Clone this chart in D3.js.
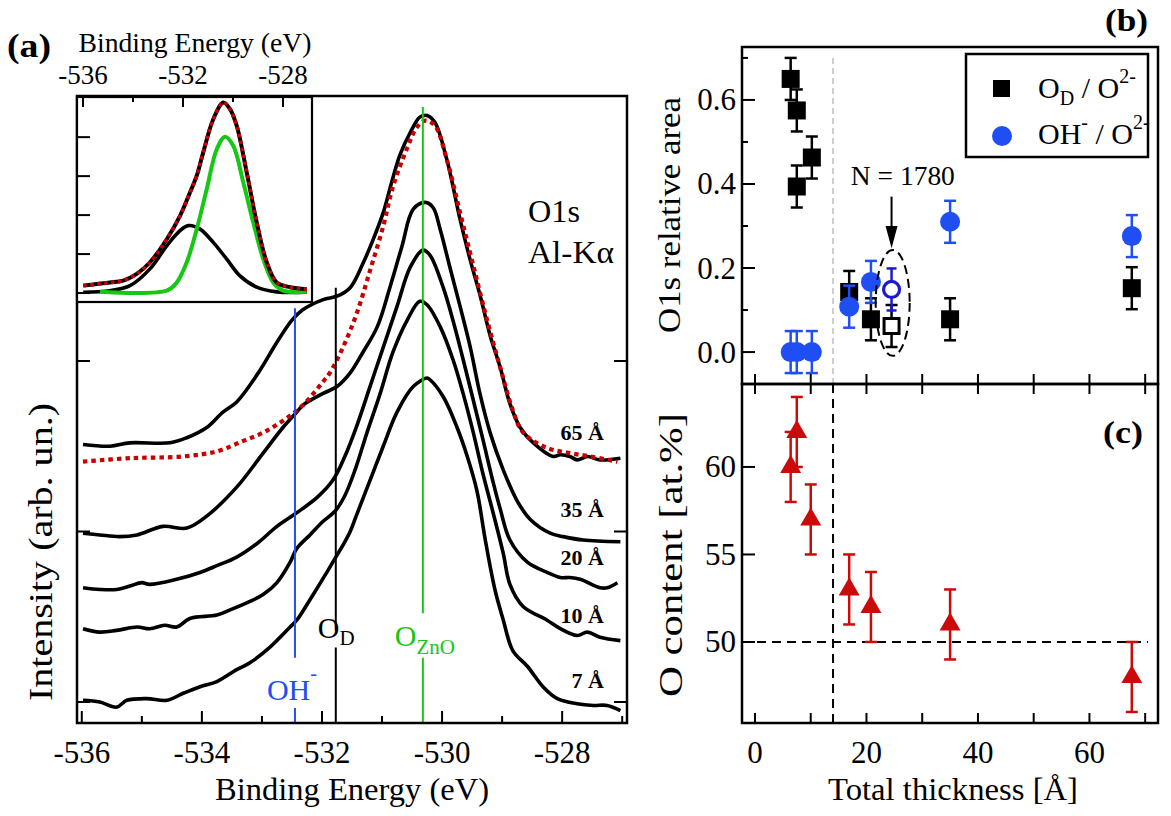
<!DOCTYPE html>
<html>
<head>
<meta charset="utf-8">
<script src="https://cdn.jsdelivr.net/npm/d3@7"></script>
<style>
  body { margin: 0; background: #fff; }
  svg { display: block; }
  text { font-family: 'Liberation Serif', 'Times New Roman', serif; fill: #000; }
</style>
</head>
<body>
<svg id="fig" width="1171" height="816"></svg>
<script>
// ---------- O1s spectra, binding energy (eV) vs intensity (arb. units, offset stacked) ----------
const spectrum7 = [[-535.98,0.01],[-535.70,0.00],[-535.42,-0.03],[-535.25,0.01],[-534.92,0.02],[-534.58,0.01],[-534.32,0.05],[-534.03,0.09],[-533.75,0.12],[-533.42,0.19],[-533.20,0.23],[-532.87,0.32],[-532.53,0.44],[-532.42,0.48],[-532.20,0.60],[-531.92,0.76],[-531.77,0.85],[-531.65,0.92],[-531.53,1.00],[-531.42,1.10],[-531.20,1.30],[-530.98,1.50],[-530.75,1.70],[-530.48,1.85],[-530.25,1.90],[-530.20,1.89],[-529.98,1.79],[-529.75,1.61],[-529.58,1.44],[-529.42,1.24],[-529.28,0.95],[-529.12,0.66],[-528.98,0.48],[-528.82,0.30],[-528.58,0.21],[-528.32,0.09],[-528.08,0.02],[-527.75,-0.01],[-527.48,-0.02],[-527.25,-0.02],[-527.03,-0.05]];
const spectrum10 = [[-535.98,0.43],[-535.70,0.41],[-535.42,0.42],[-535.08,0.44],[-534.87,0.43],[-534.62,0.45],[-534.42,0.44],[-534.20,0.49],[-533.75,0.51],[-533.53,0.54],[-533.20,0.59],[-532.98,0.63],[-532.75,0.70],[-532.53,0.82],[-532.42,0.90],[-532.20,0.98],[-531.98,1.06],[-531.78,1.12],[-531.62,1.21],[-531.45,1.36],[-531.25,1.58],[-531.03,1.81],[-530.82,2.05],[-530.58,2.24],[-530.37,2.35],[-530.25,2.33],[-530.03,2.20],[-529.82,2.01],[-529.65,1.81],[-529.48,1.58],[-529.32,1.34],[-529.15,1.11],[-528.98,0.87],[-528.87,0.69],[-528.65,0.56],[-528.25,0.48],[-528.03,0.43],[-527.75,0.39],[-527.58,0.41],[-527.37,0.38],[-527.03,0.36]];
const spectrum20 = [[-535.98,0.67],[-535.70,0.66],[-535.42,0.66],[-535.20,0.68],[-535.00,0.70],[-534.87,0.69],[-534.42,0.72],[-534.03,0.76],[-533.75,0.80],[-533.42,0.85],[-533.08,0.93],[-532.75,1.03],[-532.42,1.11],[-532.08,1.20],[-531.82,1.30],[-531.62,1.44],[-531.42,1.62],[-531.20,1.85],[-530.98,2.08],[-530.75,2.32],[-530.53,2.55],[-530.32,2.65],[-530.20,2.62],[-529.98,2.43],[-529.82,2.24],[-529.65,2.01],[-529.48,1.77],[-529.32,1.54],[-529.15,1.29],[-529.03,1.13],[-528.87,0.95],[-528.58,0.82],[-528.25,0.76],[-528.03,0.73],[-527.87,0.73],[-527.70,0.72],[-527.37,0.67],[-527.25,0.67],[-527.08,0.70]];
const spectrum35 = [[-535.98,0.99],[-535.70,0.98],[-535.37,0.97],[-535.08,0.98],[-534.65,1.03],[-534.25,1.02],[-533.92,1.09],[-533.42,1.26],[-532.98,1.46],[-532.65,1.61],[-532.42,1.70],[-532.32,1.74],[-531.98,1.81],[-531.75,1.85],[-531.53,1.93],[-531.32,2.05],[-531.08,2.20],[-530.87,2.43],[-530.67,2.67],[-530.48,2.89],[-530.28,2.93],[-530.15,2.90],[-530.03,2.77],[-529.87,2.55],[-529.70,2.32],[-529.53,2.08],[-529.37,1.81],[-529.20,1.58],[-528.98,1.36],[-528.75,1.18],[-528.53,1.07],[-528.20,0.99],[-527.98,0.97],[-527.65,0.95],[-527.03,0.94]];
const spectrum65 = [[-535.98,1.51],[-535.53,1.50],[-535.20,1.52],[-534.53,1.52],[-534.25,1.55],[-533.92,1.61],[-533.65,1.70],[-533.42,1.76],[-533.08,1.92],[-532.75,2.11],[-532.50,2.24],[-532.32,2.30],[-531.98,2.36],[-531.75,2.38],[-531.53,2.43],[-531.32,2.57],[-531.15,2.71],[-530.98,2.87],[-530.83,3.06],[-530.70,3.21],[-530.53,3.34],[-530.37,3.43],[-530.25,3.44],[-530.12,3.40],[-529.92,3.18],[-529.70,2.83],[-529.53,2.59],[-529.37,2.39],[-529.20,2.15],[-529.03,1.96],[-528.87,1.75],[-528.70,1.61],[-528.48,1.52],[-528.15,1.44],[-528.03,1.45],[-527.87,1.44],[-527.75,1.42],[-527.58,1.44],[-527.37,1.42],[-527.03,1.43]];
// O_ZnO-only reference envelope (red dotted)
const referenceZnO = [[-535.98,1.41],[-535.20,1.43],[-534.32,1.44],[-533.75,1.47],[-533.32,1.53],[-532.98,1.58],[-532.65,1.65],[-532.32,1.74],[-531.98,1.88],[-531.87,1.93],[-531.65,2.08],[-531.42,2.28],[-531.20,2.53],[-530.98,2.79],[-530.82,3.02],[-530.58,3.25],[-530.42,3.37],[-530.28,3.41],[-530.12,3.38],[-529.92,3.18],[-529.70,2.87],[-529.48,2.56],[-529.25,2.24],[-529.03,1.96],[-528.82,1.71],[-528.65,1.58],[-528.25,1.49],[-527.87,1.46],[-527.53,1.44],[-527.08,1.41]];
const spectrumLabels = ["7 Å", "10 Å", "20 Å", "35 Å", "65 Å"];

// Component energies (eV)
const peakOH = -532.45, peakOD = -531.77, peakZnO = -530.32;

// ---------- inset: fitted spectrum ----------
const insetMeasured = [[-535.99,0.19],[-535.45,0.23],[-534.92,0.27],[-534.39,0.32],[-533.85,0.49],[-533.32,0.79],[-532.65,1.38],[-532.12,1.98],[-531.72,2.58],[-531.45,3.01],[-531.19,3.61],[-530.79,4.46],[-530.39,4.89],[-530.12,4.72],[-529.85,4.29],[-529.45,3.09],[-529.05,1.81],[-528.65,0.79],[-528.25,0.27],[-527.72,0.15],[-527.05,0.10]];
const insetComponentOD = [[-535.99,0.02],[-534.92,0.06],[-534.12,0.19],[-533.32,0.62],[-532.65,1.21],[-532.12,1.60],[-531.79,1.73],[-531.32,1.64],[-530.79,1.30],[-530.25,0.87],[-529.72,0.44],[-529.05,0.15],[-528.25,0.03],[-527.05,0.02]];
const insetComponentZnO = [[-535.32,0.03],[-532.65,0.06],[-532.25,0.27],[-531.85,0.79],[-531.45,1.64],[-531.05,2.67],[-530.65,3.69],[-530.32,4.01],[-529.99,3.78],[-529.59,2.84],[-529.19,1.81],[-528.79,0.87],[-528.39,0.27],[-527.99,0.06],[-527.05,0.03]];

// ---------- (b) O1s relative areas vs total thickness (Å) ----------
const thicknessOD = [6.4, 7.5, 10.2, 7.5, 16.9, 20.8, 35, 67.6];
const ratioOD     = [0.65, 0.575, 0.463, 0.394, 0.143, 0.078, 0.078, 0.152];
const errOD       = [0.05, 0.05, 0.05, 0.05, 0.05, 0.05, 0.05, 0.05];
const thicknessOH = [6.4, 7.5, 10.2, 16.9, 20.8, 35, 67.6];
const ratioOH     = [0.0, 0.0, 0.0, 0.108, 0.167, 0.31, 0.276];
const errOH       = [0.05, 0.05, 0.05, 0.05, 0.05, 0.05, 0.05];
// N = 1780 sample (open symbols)
const thicknessN = [24.5];
const ratioODN = [0.062];
const ratioOHN = [0.149];
const errN = [0.05];

// ---------- (c) O content vs total thickness ----------
const thicknessO = [6.4, 7.5, 10, 16.9, 20.8, 35, 67.6];
const oContent   = [60, 62, 57, 53, 52, 51, 48];
const oErr       = [2, 2, 2, 2, 2, 2, 2];

// tick values
const ticksA = [-536, -535, -534, -533, -532, -531, -530, -529, -528, -527];
const ticksAy = [0, 1, 2];
const insetTicks = [-536, -534, -532, -530, -528];
const insetTicksY = [0, 1, 2, 3, 4];
const ticksThk = [0, 10, 20, 30, 40, 50, 60, 70];
const ticksB = [0, 0.1, 0.2, 0.3, 0.4, 0.5, 0.6, 0.7];
const ticksC = [50, 55, 60];

const svg = d3.select('#fig');
svg.append('rect').attr('width', 1171).attr('height', 816).attr('fill', '#fff');
const defs = svg.append('defs');

const BLUE = '#1f4ef5', GREEN = '#14c814', RED = '#c80000', TRI = '#cc0a0a';
const fmtE = d => String(d);

// text helper with an explicit rendered length
function label(g, x, y, str, size, len, opts = {}) {
  const t = g.append('text').attr('x', x).attr('y', y).attr('font-size', size).text(str);
  if (len) t.attr('textLength', len).attr('lengthAdjust', 'spacingAndGlyphs');
  if (opts.anchor) t.attr('text-anchor', opts.anchor);
  if (opts.bold) t.attr('font-weight', 'bold');
  if (opts.transform) t.attr('transform', opts.transform);
  return t;
}

// ======================= Panel (a) =======================
const xA = d3.scaleLinear().domain([-536.08, -526.92]).range([77, 627]);
const yA = d3.scaleLinear().domain([-0.123, 3.554]).range([723, 96]);
defs.append('clipPath').attr('id', 'clipA').append('rect')
  .attr('x', 77).attr('y', 96).attr('width', 550).attr('height', 627);

const gA = svg.append('g');
const lineA = d3.line().x(d => xA(d[0])).y(d => yA(d[1])).curve(d3.curveCatmullRom.alpha(0.5));
const plotA = gA.append('g').attr('clip-path', 'url(#clipA)');

[spectrum7, spectrum10, spectrum20, spectrum35, spectrum65].forEach(s => {
  plotA.append('path').datum(s).attr('d', lineA)
    .attr('fill', 'none').attr('stroke', '#000').attr('stroke-width', 3.6)
    .attr('stroke-linejoin', 'round');
});
plotA.append('path').datum(referenceZnO).attr('d', lineA)
  .attr('fill', 'none').attr('stroke', RED).attr('stroke-width', 4.2)
  .attr('stroke-dasharray', '4.5,4');

// component markers, split around their labels
function vseg(e, i0, i1, color) {
  plotA.append('line').attr('x1', xA(e)).attr('x2', xA(e))
    .attr('y1', yA(i0)).attr('y2', yA(i1))
    .attr('stroke', color).attr('stroke-width', 2);
}
vseg(peakOH, 2.31, 0.26, BLUE);  vseg(peakOH, -0.035, -0.2, BLUE);
vseg(peakOD, 2.43, 0.42, '#000'); vseg(peakOD, 0.32, -0.2, '#000');
vseg(peakZnO, 3.49, 0.52, GREEN); vseg(peakZnO, 0.26, -0.2, GREEN);

// component labels
const lblOH = gA.append('text').attr('x', xA(peakOH) - 28).attr('y', 700)
  .attr('font-size', 30).style('fill', BLUE);
lblOH.append('tspan').text('OH');
lblOH.append('tspan').attr('dy', -20).attr('font-size', 20).text('-');
const lblOD = gA.append('text').attr('x', xA(peakOD) - 18).attr('y', 638).attr('font-size', 30);
lblOD.append('tspan').text('O');
lblOD.append('tspan').attr('dy', 7).attr('font-size', 21).text('D');
const lblZ = gA.append('text').attr('x', xA(peakZnO) - 28).attr('y', 646)
  .attr('font-size', 30).style('fill', GREEN);
lblZ.append('tspan').text('O');
lblZ.append('tspan').attr('dy', 8).attr('font-size', 21).text('ZnO');

// thickness labels
const labelBase = [688, 623, 565, 517, 440];
spectrumLabels.forEach((t, i) => {
  label(gA, 604, labelBase[i], t, 22, null, { anchor: 'end', bold: true });
});
label(gA, 528, 222, 'O1s', 31, 52);
label(gA, 528, 263, 'Al-Kα', 31, 86);

// frame and ticks
gA.append('rect').attr('x', 77).attr('y', 96).attr('width', 550).attr('height', 627)
  .attr('fill', 'none').attr('stroke', '#000').attr('stroke-width', 2.5);
ticksA.forEach(t => {
  const major = t % 2 === 0;
  gA.append('line').attr('x1', xA(t)).attr('x2', xA(t))
    .attr('y1', 723).attr('y2', 723 - (major ? 12 : 7))
    .attr('stroke', '#000').attr('stroke-width', 2);
  if (major) label(gA, xA(t), 763, fmtE(t), 31, null, { anchor: 'middle' });
});
ticksAy.forEach(t => {
  gA.append('line').attr('x1', 77).attr('x2', 90).attr('y1', yA(t)).attr('y2', yA(t))
    .attr('stroke', '#000').attr('stroke-width', 2);
  gA.append('line').attr('x1', 627).attr('x2', 614).attr('y1', yA(t)).attr('y2', yA(t))
    .attr('stroke', '#000').attr('stroke-width', 2);
});
label(gA, 352, 800, 'Binding Energy (eV)', 31, 274, { anchor: 'middle' });
label(gA, 0, 0, 'Intensity (arb. un.)', 34, 298, { anchor: 'middle', transform: 'translate(52,552) rotate(-90)' });
label(gA, 7, 57, '(a)', 33, 44, { bold: true });

// ---------------- inset ----------------
const xI = d3.scaleLinear().domain([-536.24, -526.84]).range([77, 312]);
const yI = d3.scaleLinear().domain([-0.23, 5.03]).range([302, 97]);
defs.append('clipPath').attr('id', 'clipI').append('rect')
  .attr('x', 77).attr('y', 97).attr('width', 235).attr('height', 205);
const gI = svg.append('g');
gI.append('rect').attr('x', 77).attr('y', 97).attr('width', 235).attr('height', 205).attr('fill', '#fff');
const lineI = d3.line().x(d => xI(d[0])).y(d => yI(d[1])).curve(d3.curveCatmullRom.alpha(0.5));
const plotI = gI.append('g').attr('clip-path', 'url(#clipI)');
plotI.append('path').datum(insetComponentOD).attr('d', lineI)
  .attr('fill', 'none').attr('stroke', '#000').attr('stroke-width', 3.6);
plotI.append('path').datum(insetComponentZnO).attr('d', lineI)
  .attr('fill', 'none').attr('stroke', GREEN).attr('stroke-width', 4);
plotI.append('path').datum(insetMeasured).attr('d', lineI)
  .attr('fill', 'none').attr('stroke', '#000').attr('stroke-width', 4);
plotI.append('path').datum(insetMeasured).attr('d', lineI)
  .attr('fill', 'none').attr('stroke', RED).attr('stroke-width', 3.6)
  .attr('stroke-dasharray', '3.5,3.5');
gI.append('rect').attr('x', 77).attr('y', 97).attr('width', 235).attr('height', 205)
  .attr('fill', 'none').attr('stroke', '#000').attr('stroke-width', 2.2);
insetTicks.forEach(t => {
  const major = (t + 536) % 4 === 0;
  gI.append('line').attr('x1', xI(t)).attr('x2', xI(t)).attr('y1', 97).attr('y2', 97 + (major ? 10 : 5))
    .attr('stroke', '#000').attr('stroke-width', 2);
  if (major) label(gI, xI(t), 84, fmtE(t), 27, null, { anchor: 'middle' });
});
insetTicksY.forEach(t => {
  gI.append('line').attr('x1', 77).attr('x2', 90).attr('y1', yI(t)).attr('y2', yI(t))
    .attr('stroke', '#000').attr('stroke-width', 2);
});
label(gI, 195, 52, 'Binding Energy (eV)', 27, 233, { anchor: 'middle' });

// ======================= Panels (b) and (c) =======================
const xB = d3.scaleLinear().domain([-2.33, 72.3]).range([742, 1158]);
const yB = d3.scaleLinear().domain([-0.076, 0.726]).range([384, 47]);
const yC = d3.scaleLinear().domain([45.37, 64.74]).range([723, 384]);
const gB = svg.append('g');
const gC = svg.append('g');

// (b) dashed divider
gB.append('line').attr('x1', xB(14)).attr('x2', xB(14)).attr('y1', yB(0.7)).attr('y2', 384)
  .attr('stroke', '#b4b4b4').attr('stroke-width', 1.3).attr('stroke-dasharray', '6,4');

function errBars(g, xs, ys, es, xS, yS, color, cap, w) {
  xs.forEach((x, i) => {
    const cx = xS(x), y0 = yS(ys[i] - es[i]), y1 = yS(ys[i] + es[i]);
    g.append('line').attr('x1', cx).attr('x2', cx).attr('y1', y0).attr('y2', y1)
      .attr('stroke', color).attr('stroke-width', w);
    [y0, y1].forEach(yy => g.append('line').attr('x1', cx - cap / 2).attr('x2', cx + cap / 2)
      .attr('y1', yy).attr('y2', yy).attr('stroke', color).attr('stroke-width', w));
  });
}

// O_D / O2- squares
errBars(gB, thicknessOD, ratioOD, errOD, xB, yB, '#000', 12, 2.5);
thicknessOD.forEach((x, i) => {
  gB.append('rect').attr('x', xB(x) - 9).attr('y', yB(ratioOD[i]) - 9)
    .attr('width', 18).attr('height', 18).attr('fill', '#000');
});
errBars(gB, thicknessN, ratioODN, errN, xB, yB, '#000', 12, 2.5);
thicknessN.forEach((x, i) => {
  gB.append('rect').attr('x', xB(x) - 7.5).attr('y', yB(ratioODN[i]) - 7.5)
    .attr('width', 15).attr('height', 15).attr('fill', '#fff')
    .attr('stroke', '#000').attr('stroke-width', 3);
});
// OH- / O2- circles
errBars(gB, thicknessOH, ratioOH, errOH, xB, yB, BLUE, 12, 2.5);
thicknessOH.forEach((x, i) => {
  gB.append('circle').attr('cx', xB(x)).attr('cy', yB(ratioOH[i])).attr('r', 10).attr('fill', BLUE);
});
errBars(gB, thicknessN, ratioOHN, errN, xB, yB, '#1a1ad0', 10, 2.5);
thicknessN.forEach((x, i) => {
  gB.append('circle').attr('cx', xB(x)).attr('cy', yB(ratioOHN[i])).attr('r', 8)
    .attr('fill', '#fff').attr('stroke', '#1a1ad0').attr('stroke-width', 3.2);
});

// N = 1780 annotation
gB.append('ellipse').attr('cx', xB(24.7)).attr('cy', yB(0.117))
  .attr('rx', xB(24.7 + 3.05) - xB(24.7)).attr('ry', yB(0) - yB(0.126))
  .attr('fill', 'none').attr('stroke', '#000').attr('stroke-width', 2).attr('stroke-dasharray', '9,5');
const ax = xB(24.5);
gB.append('line').attr('x1', ax).attr('x2', ax).attr('y1', yB(0.37)).attr('y2', yB(0.30))
  .attr('stroke', '#000').attr('stroke-width', 2);
gB.append('path').attr('d', `M${ax - 6},${yB(0.30)} L${ax + 6},${yB(0.30)} L${ax},${yB(0.247)} Z`).attr('fill', '#000');
label(gB, xB(17.2), 185, 'N = 1780', 28, 104);

// legend
gB.append('rect').attr('x', 966).attr('y', 54).attr('width', 182).attr('height', 103)
  .attr('fill', '#fff').attr('stroke', '#000').attr('stroke-width', 2.5);
gB.append('rect').attr('x', 993).attr('y', 80).attr('width', 17).attr('height', 17).attr('fill', '#000');
gB.append('circle').attr('cx', 1002).attr('cy', 136).attr('r', 10).attr('fill', BLUE);
const l1 = gB.append('text').attr('x', 1038).attr('y', 98).attr('font-size', 30);
l1.append('tspan').text('O');
l1.append('tspan').attr('dy', 7).attr('font-size', 20).text('D');
l1.append('tspan').attr('dy', -7).text(' / O');
l1.append('tspan').attr('dy', -15).attr('font-size', 20).text('2-');
const l2 = gB.append('text').attr('x', 1038).attr('y', 144).attr('font-size', 30);
l2.append('tspan').text('OH');
l2.append('tspan').attr('dy', -15).attr('font-size', 20).text('-');
l2.append('tspan').attr('dy', 15).text(' / O');
l2.append('tspan').attr('dy', -15).attr('font-size', 20).text('2-');

// (c) reference lines
gC.append('line').attr('x1', xB(14)).attr('x2', xB(14)).attr('y1', 384).attr('y2', 723)
  .attr('stroke', '#000').attr('stroke-width', 2).attr('stroke-dasharray', '9,6');
gC.append('line').attr('x1', 742).attr('x2', xB(70.5)).attr('y1', yC(50)).attr('y2', yC(50))
  .attr('stroke', '#000').attr('stroke-width', 2).attr('stroke-dasharray', '9,6');
errBars(gC, thicknessO, oContent, oErr, xB, yC, TRI, 12, 2.5);
const tri = d3.symbol().type(d3.symbolTriangle).size(190);
thicknessO.forEach((x, i) => {
  gC.append('path').attr('d', tri).attr('transform', `translate(${xB(x)},${yC(oContent[i])})`).attr('fill', TRI);
});

// frames, ticks, labels
[gB, gC].forEach((g, k) => {
  const y0 = k === 0 ? 47 : 384, y1 = k === 0 ? 384 : 723;
  g.append('rect').attr('x', 742).attr('y', y0).attr('width', 416).attr('height', y1 - y0)
    .attr('fill', 'none').attr('stroke', '#000').attr('stroke-width', 2.5);
});
ticksThk.forEach(t => {
  [[384, 374], [384, 394], [723, 713]].forEach(([a, b]) => {
    svg.append('line').attr('x1', xB(t)).attr('x2', xB(t)).attr('y1', a).attr('y2', b)
      .attr('stroke', '#000').attr('stroke-width', 2);
  });
  if (t % 20 === 0) label(svg, xB(t), 763, String(t), 31, null, { anchor: 'middle' });
});
ticksB.forEach(t => {
  const major = Math.round(t * 10) % 2 === 0;
  gB.append('line').attr('x1', 742).attr('x2', 742 + (major ? 13 : 6)).attr('y1', yB(t)).attr('y2', yB(t))
    .attr('stroke', '#000').attr('stroke-width', 2);
  if (major) label(gB, 736, yB(t) + 10.5, t.toFixed(1), 31, null, { anchor: 'end' });
});
ticksC.forEach(t => {
  gC.append('line').attr('x1', 742).attr('x2', 755).attr('y1', yC(t)).attr('y2', yC(t))
    .attr('stroke', '#000').attr('stroke-width', 2);
  label(gC, 736, yC(t) + 10.5, String(t), 31, null, { anchor: 'end' });
});
label(svg, 953, 800, 'Total thickness [Å]', 31, 250, { anchor: 'middle' });
label(gB, 0, 0, 'O1s relative area', 31, 236, { anchor: 'middle', transform: 'translate(680,215) rotate(-90)' });
label(gC, 0, 0, 'O content [at.%]', 34, 284, { anchor: 'middle', transform: 'translate(682,555) rotate(-90)' });
label(gB, 1105, 31, '(b)', 31, 43, { bold: true });
label(gC, 1103, 443, '(c)', 31, 40, { bold: true });
</script>
</body>
</html>
